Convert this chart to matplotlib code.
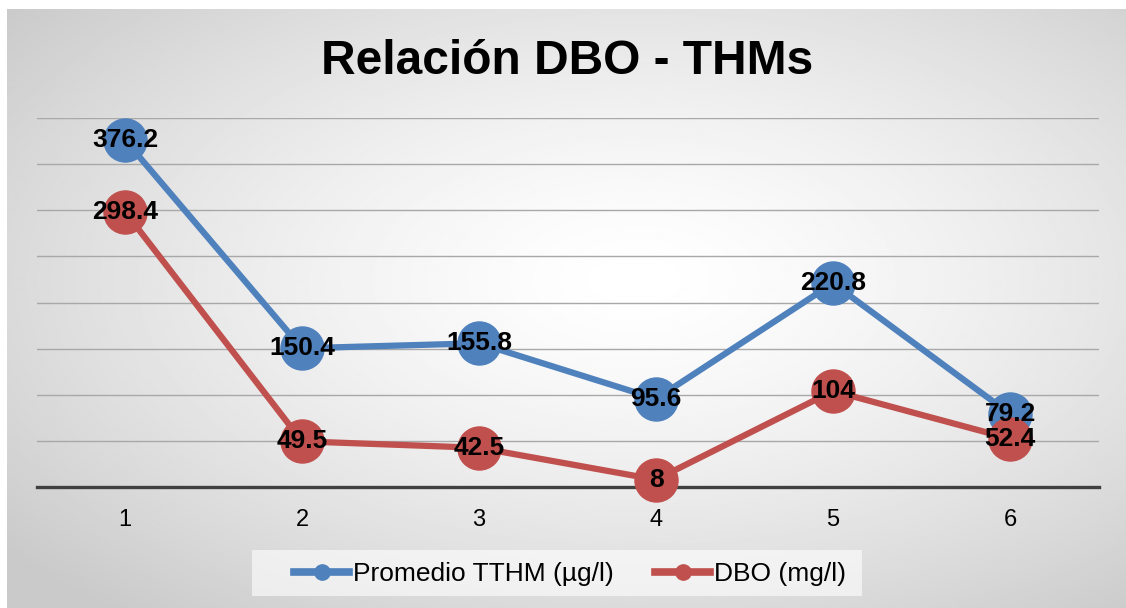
import numpy as np
import matplotlib
matplotlib.use("Agg")
import matplotlib.pyplot as plt
from matplotlib.patches import Rectangle

plt.rcParams['font.family'] = ['Liberation Sans', 'DejaVu Sans']

muestras = [1, 2, 3, 4, 5, 6]
tthm = [376.2, 150.4, 155.8, 95.6, 220.8, 79.2]
dbo = [298.4, 49.5, 42.5, 8, 104, 52.4]
titulo = "Relación DBO - THMs"
nombre_tthm = "Promedio TTHM (µg/l)"
nombre_dbo = "DBO (mg/l)"

azul = "#4F81BD"
rojo = "#C0504D"

W, H = 1126, 608
fig = plt.figure(figsize=(W/100, H/100), dpi=100)

# radial gradient background (gray area starts at x=7, y=9)
bg = fig.add_axes([7/W, 0, 1-7/W, 1-9/H])
bg.set_axis_off()
ny, nx = 300, 560
yy, xx = np.mgrid[0:ny, 0:nx]
cx, cy = nx*0.56, ny*0.45
r = np.sqrt(((xx-cx)/(nx*0.5))**2 + ((yy-cy)/(ny*0.5))**2)
val = 1 - 0.21*np.clip(r/1.45, 0, 1)**1.4
bg.imshow(val, cmap="gray", vmin=0, vmax=1, aspect="auto", interpolation="bilinear")

ax = fig.add_axes([36.5/W, 121/H, 1062/W, 369/H])
ax.patch.set_alpha(0)
ax.set_xlim(0.5, 6.5)
ax.set_ylim(0, 400)
ax.set_yticks(np.arange(0, 401, 50))
ax.yaxis.grid(True, color="#a8a8a8", lw=1.0)
ax.set_axisbelow(True)
for s in ["top", "right", "left"]:
    ax.spines[s].set_visible(False)
ax.spines["bottom"].set_color("#404040")
ax.spines["bottom"].set_linewidth(2.4)
ax.tick_params(axis="y", left=False, labelleft=False)
ax.tick_params(axis="x", length=0, pad=16, labelsize=17)
ax.set_xticks(muestras)

ax.plot(muestras, tthm, color=azul, lw=4.5, marker="o", ms=31, label=nombre_tthm, clip_on=False, zorder=3)
ax.plot(muestras, dbo, color=rojo, lw=4.5, marker="o", ms=31, label=nombre_dbo, clip_on=False, zorder=4)

for x, v in zip(muestras, tthm):
    ax.text(x, v, f"{v:g}", ha="center", va="center", fontsize=19, fontweight="bold", zorder=5)
for x, v in zip(muestras, dbo):
    ax.text(x, v, f"{v:g}", ha="center", va="center", fontsize=19, fontweight="bold", zorder=5)

fig.text(567/W, 1-61/H, titulo, ha="center", va="center", fontsize=34.5, fontweight="bold")

# legend box
fig.patches.append(Rectangle((252/W, 1-596/H), 610/W, 46/H, transform=fig.transFigure,
                             facecolor="white", alpha=0.6, edgecolor="none", zorder=1))
h1, = ax.plot([], [], color=azul, lw=5.5, marker="o", ms=11)
h2, = ax.plot([], [], color=rojo, lw=5.5, marker="o", ms=11)
leg = fig.legend([h1, h2], [nombre_tthm, nombre_dbo], loc="center", bbox_to_anchor=(570/W, 1-574/H),
                 ncol=2, fontsize=19, frameon=False, handlelength=2.1,
                 handletextpad=0.15, columnspacing=1.55, borderpad=0.2)

fig.savefig("out.png", dpi=100)
